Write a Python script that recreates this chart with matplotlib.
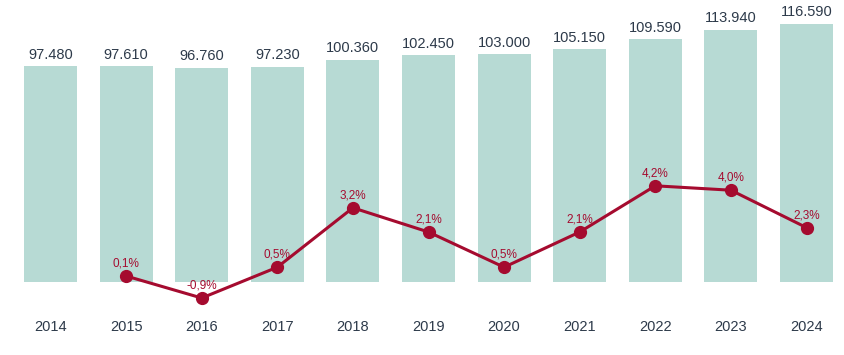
import matplotlib.pyplot as plt

plt.rcParams['font.family'] = ['Liberation Sans', 'DejaVu Sans']

# Datos
years = ['2014', '2015', '2016', '2017', '2018', '2019', '2020', '2021', '2022', '2023', '2024']
values = [97480, 97610, 96760, 97230, 100360, 102450, 103000, 105150, 109590, 113940, 116590]
growth_years = years[1:]
growth = [0.1, -0.9, 0.5, 3.2, 2.1, 0.5, 2.1, 4.2, 4.0, 2.3]

bar_color = '#b7dad4'
line_color = '#a50b2f'
text_color = '#2d3a4a'

fig = plt.figure(figsize=(8.44, 3.55), dpi=100)
ax = fig.add_axes([0, 0, 1, 1])
x = list(range(len(years)))

ax.bar(x, values, width=0.70, color=bar_color)
for xi, v in zip(x, values):
    ax.annotate(f"{v:,}".replace(",", "."), (xi, v), xytext=(0, 3), textcoords='offset points',
                ha='center', va='bottom', fontsize=10.5, color=text_color)

# etiquetas de años
for xi, y in zip(x, years):
    ax.text(xi, 0.08, y, transform=ax.get_xaxis_transform(), ha='center', va='center',
            fontsize=10.5, color=text_color)

ax.set_xlim(-0.668, 10.496)
ax.set_ylim(-32945, 127267)
ax.axis('off')

# crecimiento anual (eje secundario)
ax2 = ax.twinx()
gx = [years.index(y) for y in growth_years]
ax2.plot(gx, growth, color=line_color, lw=2.2, marker='o', markersize=8.5, zorder=5)
for xi, g in zip(gx, growth):
    ax2.annotate(f"{g:.1f}%".replace(".", ","), (xi, g), xytext=(0, 9), textcoords='offset points',
                 ha='center', va='center', fontsize=8.5, color=line_color)
ax2.set_ylim(-3.49, 12.645)
ax2.axis('off')

fig.savefig('out.png', dpi=100)
